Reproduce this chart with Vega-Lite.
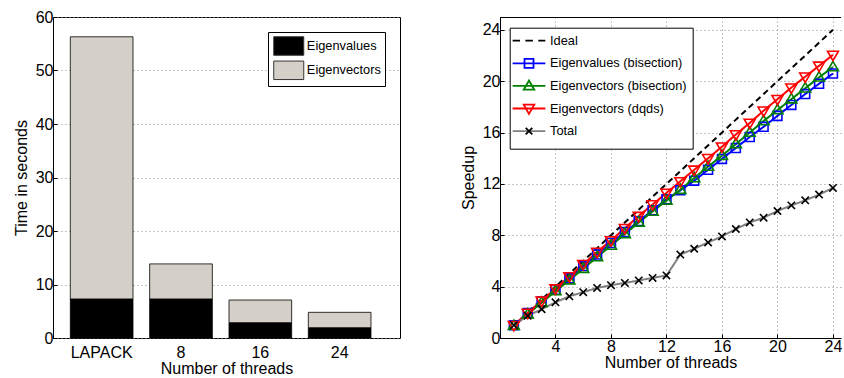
{
  "$schema": "https://vega.github.io/schema/vega-lite/v6.json",
  "background": "white",
  "padding": {"left": 12, "top": 8, "right": 0, "bottom": 0},
  "spacing": 100,
  "bounds": "flush",
  "resolve": {
    "scale": {"color": "independent", "stroke": "independent", "shape": "independent", "strokeDash": "independent", "x": "independent", "y": "independent"},
    "legend": {"color": "independent", "stroke": "independent", "shape": "independent"}
  },
  "config": {
    "font": "Liberation Sans",
    "view": {"stroke": "black", "strokeWidth": 1},
    "axis": {
      "labelFont": "Liberation Sans",
      "titleFont": "Liberation Sans",
      "labelFontSize": 16,
      "titleFontSize": 16,
      "titleFontWeight": "normal",
      "labelColor": "black",
      "titleColor": "black",
      "domain": false,
      "gridColor": "#888888",
      "gridDash": [1, 3],
      "gridWidth": 1,
      "tickColor": "black",
      "tickSize": -4,
      "labelPadding": 4
    },
    "legend": {"labelFont": "Liberation Sans", "labelColor": "black"}
  },
  "datasets": {
    "times": [
      {"threads": "LAPACK", "part": "Eigenvalues", "time": 7.3},
      {"threads": "LAPACK", "part": "Eigenvectors", "time": 49.0},
      {"threads": "8", "part": "Eigenvalues", "time": 7.3},
      {"threads": "8", "part": "Eigenvectors", "time": 6.55},
      {"threads": "16", "part": "Eigenvalues", "time": 2.87},
      {"threads": "16", "part": "Eigenvectors", "time": 4.23},
      {"threads": "24", "part": "Eigenvalues", "time": 1.93},
      {"threads": "24", "part": "Eigenvectors", "time": 2.87}
    ],
    "speedup": [
      {"series": "Ideal", "threads": 1, "speedup": 1},
      {"series": "Ideal", "threads": 24, "speedup": 24},
      {"series": "Eigenvalues (bisection)", "threads": 1, "speedup": 1.0},
      {"series": "Eigenvalues (bisection)", "threads": 2, "speedup": 1.95},
      {"series": "Eigenvalues (bisection)", "threads": 3, "speedup": 2.85},
      {"series": "Eigenvalues (bisection)", "threads": 4, "speedup": 3.75},
      {"series": "Eigenvalues (bisection)", "threads": 5, "speedup": 4.65},
      {"series": "Eigenvalues (bisection)", "threads": 6, "speedup": 5.6},
      {"series": "Eigenvalues (bisection)", "threads": 7, "speedup": 6.5},
      {"series": "Eigenvalues (bisection)", "threads": 8, "speedup": 7.4},
      {"series": "Eigenvalues (bisection)", "threads": 9, "speedup": 8.25},
      {"series": "Eigenvalues (bisection)", "threads": 10, "speedup": 9.1},
      {"series": "Eigenvalues (bisection)", "threads": 11, "speedup": 9.95},
      {"series": "Eigenvalues (bisection)", "threads": 12, "speedup": 10.8},
      {"series": "Eigenvalues (bisection)", "threads": 13, "speedup": 11.5},
      {"series": "Eigenvalues (bisection)", "threads": 14, "speedup": 12.25},
      {"series": "Eigenvalues (bisection)", "threads": 15, "speedup": 13.1},
      {"series": "Eigenvalues (bisection)", "threads": 16, "speedup": 13.95},
      {"series": "Eigenvalues (bisection)", "threads": 17, "speedup": 14.8},
      {"series": "Eigenvalues (bisection)", "threads": 18, "speedup": 15.65},
      {"series": "Eigenvalues (bisection)", "threads": 19, "speedup": 16.45},
      {"series": "Eigenvalues (bisection)", "threads": 20, "speedup": 17.3},
      {"series": "Eigenvalues (bisection)", "threads": 21, "speedup": 18.15},
      {"series": "Eigenvalues (bisection)", "threads": 22, "speedup": 19.0},
      {"series": "Eigenvalues (bisection)", "threads": 23, "speedup": 19.8},
      {"series": "Eigenvalues (bisection)", "threads": 24, "speedup": 20.6},
      {"series": "Eigenvectors (bisection)", "threads": 1, "speedup": 0.95},
      {"series": "Eigenvectors (bisection)", "threads": 2, "speedup": 1.85},
      {"series": "Eigenvectors (bisection)", "threads": 3, "speedup": 2.75},
      {"series": "Eigenvectors (bisection)", "threads": 4, "speedup": 3.65},
      {"series": "Eigenvectors (bisection)", "threads": 5, "speedup": 4.5},
      {"series": "Eigenvectors (bisection)", "threads": 6, "speedup": 5.4},
      {"series": "Eigenvectors (bisection)", "threads": 7, "speedup": 6.3},
      {"series": "Eigenvectors (bisection)", "threads": 8, "speedup": 7.2},
      {"series": "Eigenvectors (bisection)", "threads": 9, "speedup": 8.1},
      {"series": "Eigenvectors (bisection)", "threads": 10, "speedup": 9.0},
      {"series": "Eigenvectors (bisection)", "threads": 11, "speedup": 9.85},
      {"series": "Eigenvectors (bisection)", "threads": 12, "speedup": 10.7},
      {"series": "Eigenvectors (bisection)", "threads": 13, "speedup": 11.55},
      {"series": "Eigenvectors (bisection)", "threads": 14, "speedup": 12.45},
      {"series": "Eigenvectors (bisection)", "threads": 15, "speedup": 13.35},
      {"series": "Eigenvectors (bisection)", "threads": 16, "speedup": 14.2},
      {"series": "Eigenvectors (bisection)", "threads": 17, "speedup": 15.1},
      {"series": "Eigenvectors (bisection)", "threads": 18, "speedup": 16.0},
      {"series": "Eigenvectors (bisection)", "threads": 19, "speedup": 16.9},
      {"series": "Eigenvectors (bisection)", "threads": 20, "speedup": 17.75},
      {"series": "Eigenvectors (bisection)", "threads": 21, "speedup": 18.6},
      {"series": "Eigenvectors (bisection)", "threads": 22, "speedup": 19.45},
      {"series": "Eigenvectors (bisection)", "threads": 23, "speedup": 20.3},
      {"series": "Eigenvectors (bisection)", "threads": 24, "speedup": 21.1},
      {"series": "Eigenvectors (dqds)", "threads": 1, "speedup": 1.0},
      {"series": "Eigenvectors (dqds)", "threads": 2, "speedup": 1.95},
      {"series": "Eigenvectors (dqds)", "threads": 3, "speedup": 2.9},
      {"series": "Eigenvectors (dqds)", "threads": 4, "speedup": 3.85},
      {"series": "Eigenvectors (dqds)", "threads": 5, "speedup": 4.8},
      {"series": "Eigenvectors (dqds)", "threads": 6, "speedup": 5.75},
      {"series": "Eigenvectors (dqds)", "threads": 7, "speedup": 6.7},
      {"series": "Eigenvectors (dqds)", "threads": 8, "speedup": 7.6},
      {"series": "Eigenvectors (dqds)", "threads": 9, "speedup": 8.55},
      {"series": "Eigenvectors (dqds)", "threads": 10, "speedup": 9.5},
      {"series": "Eigenvectors (dqds)", "threads": 11, "speedup": 10.4},
      {"series": "Eigenvectors (dqds)", "threads": 12, "speedup": 11.3},
      {"series": "Eigenvectors (dqds)", "threads": 13, "speedup": 12.2},
      {"series": "Eigenvectors (dqds)", "threads": 14, "speedup": 13.1},
      {"series": "Eigenvectors (dqds)", "threads": 15, "speedup": 14.0},
      {"series": "Eigenvectors (dqds)", "threads": 16, "speedup": 14.9},
      {"series": "Eigenvectors (dqds)", "threads": 17, "speedup": 15.85},
      {"series": "Eigenvectors (dqds)", "threads": 18, "speedup": 16.75},
      {"series": "Eigenvectors (dqds)", "threads": 19, "speedup": 17.7},
      {"series": "Eigenvectors (dqds)", "threads": 20, "speedup": 18.6},
      {"series": "Eigenvectors (dqds)", "threads": 21, "speedup": 19.5},
      {"series": "Eigenvectors (dqds)", "threads": 22, "speedup": 20.35},
      {"series": "Eigenvectors (dqds)", "threads": 23, "speedup": 21.2},
      {"series": "Eigenvectors (dqds)", "threads": 24, "speedup": 22.05},
      {"series": "Total", "threads": 1, "speedup": 1.0},
      {"series": "Total", "threads": 2, "speedup": 1.74},
      {"series": "Total", "threads": 3, "speedup": 2.24},
      {"series": "Total", "threads": 4, "speedup": 2.78},
      {"series": "Total", "threads": 5, "speedup": 3.25},
      {"series": "Total", "threads": 6, "speedup": 3.57},
      {"series": "Total", "threads": 7, "speedup": 3.9},
      {"series": "Total", "threads": 8, "speedup": 4.11},
      {"series": "Total", "threads": 9, "speedup": 4.29},
      {"series": "Total", "threads": 10, "speedup": 4.48},
      {"series": "Total", "threads": 11, "speedup": 4.68},
      {"series": "Total", "threads": 12, "speedup": 4.87},
      {"series": "Total", "threads": 13, "speedup": 6.5},
      {"series": "Total", "threads": 14, "speedup": 6.95},
      {"series": "Total", "threads": 15, "speedup": 7.44},
      {"series": "Total", "threads": 16, "speedup": 7.91},
      {"series": "Total", "threads": 17, "speedup": 8.49},
      {"series": "Total", "threads": 18, "speedup": 9.0},
      {"series": "Total", "threads": 19, "speedup": 9.37},
      {"series": "Total", "threads": 20, "speedup": 9.89},
      {"series": "Total", "threads": 21, "speedup": 10.33},
      {"series": "Total", "threads": 22, "speedup": 10.72},
      {"series": "Total", "threads": 23, "speedup": 11.17},
      {"series": "Total", "threads": 24, "speedup": 11.69}
    ]
  },
  "hconcat": [
    {
      "width": 347,
      "height": 321,
      "data": {"name": "times"},
      "mark": {"type": "bar", "stroke": "black", "strokeWidth": 0.8},
      "encoding": {
        "x": {
          "field": "threads",
          "type": "nominal",
          "sort": ["LAPACK", "8", "16", "24"],
          "scale": {"paddingInner": 0.21, "paddingOuter": 0.292, "align": 0.374, "round": false},
          "axis": {"title": "Number of threads", "labelAngle": 0, "ticks": false, "grid": false, "labelPadding": 6, "titlePadding": 0}
        },
        "y": {
          "field": "time",
          "type": "quantitative",
          "stack": "zero",
          "scale": {"domain": [0, 60], "nice": false},
          "axis": {"title": "Time in seconds", "values": [0, 10, 20, 30, 40, 50, 60], "grid": true, "titlePadding": 6}
        },
        "color": {
          "field": "part",
          "type": "nominal",
          "scale": {"domain": ["Eigenvalues", "Eigenvectors"], "range": ["black", "#d4d0c8"]},
          "legend": {
            "title": null,
            "orient": "none",
            "legendX": 215,
            "legendY": 15,
            "padding": 4,
            "fillColor": "white",
            "strokeColor": "black",
            "symbolType": "M-1.622,-1H1.622V1H-1.622Z",
            "symbolSize": 342.25,
            "symbolOffset": 6.75,
            "symbolStrokeColor": "#333333",
            "symbolStrokeWidth": 1,
            "labelFontSize": 12.8,
            "labelOffset": 8.1,
            "rowPadding": 0.3
          }
        },
        "order": {"field": "part", "sort": "ascending"}
      }
    },
    {
      "width": 341,
      "height": 321,
      "view": {"stroke": null},
      "data": {"name": "speedup"},
      "resolve": {
        "scale": {"stroke": "independent", "shape": "independent"},
        "legend": {"stroke": "independent", "shape": "independent"}
      },
      "layer": [
        {
          "mark": {"type": "rule", "color": "black", "strokeWidth": 1},
          "encoding": {"y": {"datum": 24.961}}
        },
        {
          "mark": {"type": "line", "strokeWidth": 2},
          "encoding": {
            "x": {
              "field": "threads",
              "type": "quantitative",
              "scale": {"domain": [0, 24.58], "nice": false, "zero": false},
              "axis": {"title": "Number of threads", "values": [4, 8, 12, 16, 20, 24], "grid": true, "domain": true, "domainColor": "black", "titlePadding": 0}
            },
            "y": {
              "field": "speedup",
              "type": "quantitative",
              "scale": {"domain": [0, 25], "nice": false},
              "axis": {"title": "Speedup", "values": [0, 4, 8, 12, 16, 20, 24], "grid": true, "domain": true, "domainColor": "black", "titlePadding": 6}
            },
            "color": {
              "field": "series",
              "type": "nominal",
              "scale": {
                "domain": ["Total", "Ideal", "Eigenvalues (bisection)", "Eigenvectors (bisection)", "Eigenvectors (dqds)"],
                "range": ["#808080", "black", "#0000ff", "#008000", "#ff0000"]
              },
              "legend": null
            },
            "strokeDash": {
              "field": "series",
              "type": "nominal",
              "scale": {
                "domain": ["Eigenvectors (dqds)", "Ideal", "Eigenvalues (bisection)", "Eigenvectors (bisection)", "Total"],
                "range": [[1, 0], [6, 4], [1, 0], [1, 0], [1, 0]]
              },
              "legend": null
            }
          }
        },
        {
          "transform": [{"filter": "datum.series !== 'Ideal'"}],
          "mark": {"type": "point", "filled": false, "size": 110, "strokeWidth": 1.6, "opacity": 1},
          "encoding": {
            "x": {"field": "threads", "type": "quantitative"},
            "y": {"field": "speedup", "type": "quantitative"},
            "stroke": {
              "field": "series",
              "type": "nominal",
              "scale": {
                "domain": ["Eigenvalues (bisection)", "Eigenvectors (bisection)", "Eigenvectors (dqds)", "Total"],
                "range": ["#0000ff", "#008000", "#ff0000", "black"]
              },
              "legend": null
            },
            "shape": {
              "field": "series",
              "type": "nominal",
              "scale": {
                "domain": ["Eigenvalues (bisection)", "Eigenvectors (bisection)", "Eigenvectors (dqds)", "Total"],
                "range": ["M-0.85,-0.85H0.85V0.85H-0.85Z", "M0,-1.1L1.05,0.7L-1.05,0.7Z", "M0,1.1L1.05,-0.7L-1.05,-0.7Z", "M-0.7,-0.7L0.7,0.7M-0.7,0.7L0.7,-0.7"]
              },
              "legend": null
            }
          }
        },
        {
          "transform": [{"filter": "false"}],
          "mark": {"type": "point", "filled": false, "size": 144, "strokeWidth": 1.8, "opacity": 1},
          "encoding": {
            "x": {"field": "threads", "type": "quantitative"},
            "y": {"field": "speedup", "type": "quantitative"},
            "stroke": {
              "field": "series",
              "type": "nominal",
              "scale": {
                "domain": ["Ideal", "Eigenvalues (bisection)", "Eigenvectors (bisection)", "Eigenvectors (dqds)", "Total"],
                "range": ["black", "#0000ff", "#008000", "#ff0000", "#808080"]
              },
              "legend": {
                "title": null,
                "orient": "none",
                "legendX": 9.7,
                "legendY": 10.7,
                "zindex": 1,
                "padding": 6,
                "fillColor": "white",
                "strokeColor": "black",
                "symbolSize": 144,
                "symbolOffset": 6.3,
                "symbolStrokeWidth": 1.8,
                "symbolFillColor": "transparent",
                "labelFontSize": 12.8,
                "labelOffset": 14,
                "rowPadding": -1.4
              }
            },
            "shape": {
              "field": "series",
              "type": "nominal",
              "scale": {
                "domain": ["Ideal", "Eigenvalues (bisection)", "Eigenvectors (bisection)", "Eigenvectors (dqds)", "Total"],
                "range": [
                  "M-2.725,-1.3M2.725,1.3M-2.725,0H-1.5M-0.6,0H0.65M1.55,0H2.725",
                  "M-2.725,-1.3M2.725,1.3M-2.725,0H2.725",
                  "M-2.725,-1.3M2.725,1.3M-2.725,0H2.725",
                  "M-2.725,-1.3M2.725,1.3M-2.725,0H2.725",
                  "M-2.725,-1.3M2.725,1.3M-2.725,0H2.725"
                ]
              },
              "legend": {
                "title": null,
                "orient": "none",
                "legendX": 9.7,
                "legendY": 10.7,
                "zindex": 1
              }
            }
          }
        },
        {
          "transform": [{"filter": "false"}],
          "mark": {"type": "point", "filled": false, "size": 144, "strokeWidth": 1.8, "opacity": 1},
          "encoding": {
            "x": {"field": "threads", "type": "quantitative"},
            "y": {"field": "speedup", "type": "quantitative"},
            "stroke": {
              "field": "series",
              "type": "nominal",
              "scale": {
                "domain": ["Ideal", "Eigenvalues (bisection)", "Eigenvectors (bisection)", "Eigenvectors (dqds)", "Total"],
                "range": ["black", "#0000ff", "#008000", "#ff0000", "black"]
              },
              "legend": {
                "title": null,
                "orient": "none",
                "legendX": 9.7,
                "legendY": 10.7,
                "zindex": 2,
                "padding": 6,
                "fillColor": null,
                "strokeColor": null,
                "symbolSize": 144,
                "symbolOffset": 6.3,
                "symbolStrokeWidth": 1.8,
                "symbolFillColor": "transparent",
                "labelFontSize": 12.8,
                "labelOffset": 14,
                "labelExpr": "''",
                "rowPadding": -1.4
              }
            },
            "shape": {
              "field": "series",
              "type": "nominal",
              "scale": {
                "domain": ["Ideal", "Eigenvalues (bisection)", "Eigenvectors (bisection)", "Eigenvectors (dqds)", "Total"],
                "range": [
                  "M-2.725,-1.3M2.725,1.3",
                  "M-2.725,-1.3M2.725,1.3M-0.75,-0.75H0.75V0.75H-0.75Z",
                  "M-2.725,-1.3M2.725,1.3M0,-0.9L0.88,0.63L-0.88,0.63Z",
                  "M-2.725,-1.3M2.725,1.3M0,0.9L0.88,-0.63L-0.88,-0.63Z",
                  "M-2.725,-1.3M2.725,1.3M-0.55,-0.55L0.55,0.55M-0.55,0.55L0.55,-0.55"
                ]
              },
              "legend": {
                "title": null,
                "orient": "none",
                "legendX": 9.7,
                "legendY": 10.7,
                "zindex": 2
              }
            }
          }
        }
      ]
    }
  ]
}
